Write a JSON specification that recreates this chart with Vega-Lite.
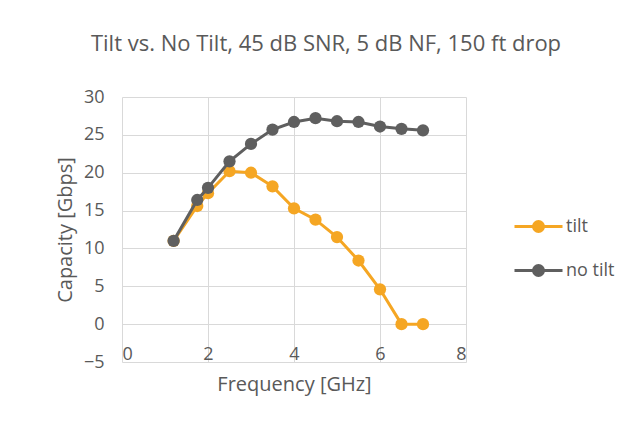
{
  "$schema": "https://vega.github.io/schema/vega-lite/v6.json",
  "width": 344,
  "height": 265,
  "autosize": {"type": "none"},
  "padding": {"left": 122, "top": 97, "right": 168, "bottom": 61},
  "background": "white",
  "config": {
    "font": "Open Sans",
    "view": {"stroke": null},
    "axis": {
      "gridColor": "#d9d9d9",
      "gridWidth": 1,
      "domain": false,
      "ticks": false,
      "labelColor": "#595959",
      "titleColor": "#595959",
      "labelFont": "Open Sans",
      "titleFont": "Open Sans",
      "labelFontSize": 18,
      "titleFontSize": 20,
      "titleFontWeight": "normal"
    }
  },
  "title": {
    "text": "Tilt vs. No Tilt, 45 dB SNR, 5 dB NF, 150 ft drop",
    "font": "Open Sans",
    "fontSize": 22,
    "fontWeight": "normal",
    "color": "#595959",
    "anchor": "middle",
    "limit": 800,
    "dx": 32,
    "offset": 32
  },
  "data": {
    "values": [
      {"freq": 1.2, "capacity": 11.0, "series": "tilt"},
      {"freq": 1.75, "capacity": 15.6, "series": "tilt"},
      {"freq": 2.0, "capacity": 17.3, "series": "tilt"},
      {"freq": 2.5, "capacity": 20.2, "series": "tilt"},
      {"freq": 3.0, "capacity": 20.0, "series": "tilt"},
      {"freq": 3.5, "capacity": 18.2, "series": "tilt"},
      {"freq": 4.0, "capacity": 15.3, "series": "tilt"},
      {"freq": 4.5, "capacity": 13.8, "series": "tilt"},
      {"freq": 5.0, "capacity": 11.5, "series": "tilt"},
      {"freq": 5.5, "capacity": 8.4, "series": "tilt"},
      {"freq": 6.0, "capacity": 4.6, "series": "tilt"},
      {"freq": 6.5, "capacity": 0.0, "series": "tilt"},
      {"freq": 7.0, "capacity": 0.0, "series": "tilt"},
      {"freq": 1.2, "capacity": 11.0, "series": "no tilt"},
      {"freq": 1.75, "capacity": 16.4, "series": "no tilt"},
      {"freq": 2.0, "capacity": 18.0, "series": "no tilt"},
      {"freq": 2.5, "capacity": 21.5, "series": "no tilt"},
      {"freq": 3.0, "capacity": 23.8, "series": "no tilt"},
      {"freq": 3.5, "capacity": 25.7, "series": "no tilt"},
      {"freq": 4.0, "capacity": 26.7, "series": "no tilt"},
      {"freq": 4.5, "capacity": 27.2, "series": "no tilt"},
      {"freq": 5.0, "capacity": 26.8, "series": "no tilt"},
      {"freq": 5.5, "capacity": 26.7, "series": "no tilt"},
      {"freq": 6.0, "capacity": 26.1, "series": "no tilt"},
      {"freq": 6.5, "capacity": 25.8, "series": "no tilt"},
      {"freq": 7.0, "capacity": 25.6, "series": "no tilt"}
    ]
  },
  "encoding": {
    "x": {
      "field": "freq",
      "type": "quantitative",
      "scale": {"domain": [0, 8], "nice": false, "zero": false},
      "axis": {
        "values": [0, 2, 4, 6, 8],
        "title": "Frequency [GHz]",
        "labelPadding": -17,
        "titlePadding": 11
      }
    },
    "y": {
      "field": "capacity",
      "type": "quantitative",
      "scale": {"domain": [-5, 30], "nice": false, "zero": false},
      "axis": {
        "values": [-5, 0, 5, 10, 15, 20, 25, 30],
        "title": "Capacity [Gbps]",
        "labelPadding": 18,
        "titlePadding": 8
      }
    },
    "color": {
      "field": "series",
      "type": "nominal",
      "scale": {"domain": ["tilt", "no tilt"], "range": ["#F5A623", "#5f5f5f"]},
      "legend": {
        "title": null,
        "orient": "none",
        "legendX": 405,
        "legendY": 118,
        "symbolType": "M-2.4,0 H2.4 M-0.5,0 A0.5,0.5 0 1,1 0.5,0 A0.5,0.5 0 1,1 -0.5,0 Z",
        "symbolSize": 400,
        "symbolStrokeWidth": 3,
        "labelFont": "Open Sans",
        "labelFontSize": 18,
        "labelColor": "#595959",
        "labelOffset": 16,
        "rowPadding": 21,
        "encode": {
          "symbols": {
            "update": {
              "fill": {"scale": "color", "field": "value"},
              "stroke": {"scale": "color", "field": "value"}
            }
          }
        }
      }
    }
  },
  "layer": [
    {
      "transform": [{"filter": "datum.series === 'tilt'"}],
      "mark": {"type": "line", "strokeWidth": 3, "point": {"filled": true, "size": 150, "opacity": 1}}
    },
    {
      "transform": [{"filter": "datum.series === 'no tilt'"}],
      "mark": {"type": "line", "strokeWidth": 3, "point": {"filled": true, "size": 150, "opacity": 1}}
    }
  ]
}
